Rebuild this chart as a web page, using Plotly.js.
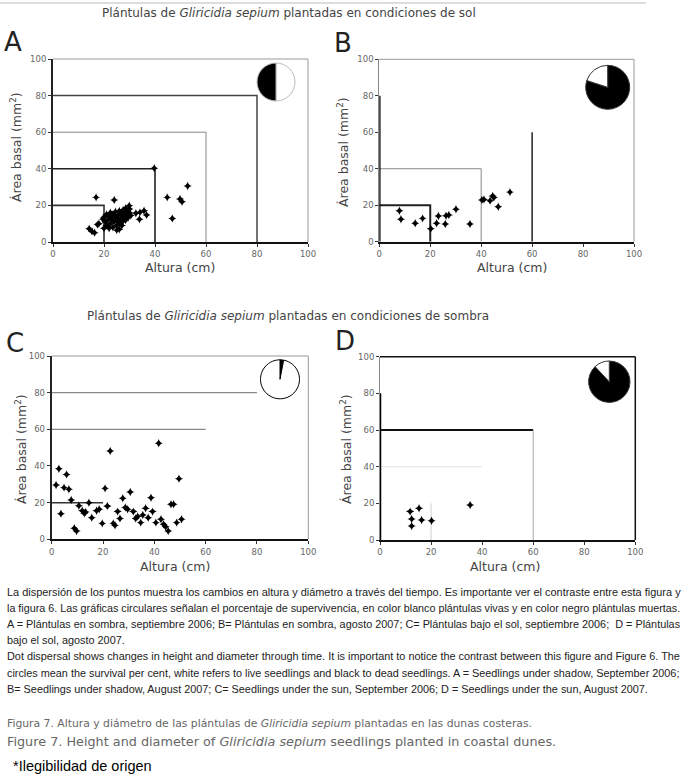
<!DOCTYPE html>
<html>
<head>
<meta charset="utf-8">
<script src="https://cdn.plot.ly/plotly-3.0.1.min.js"></script>
<style>html,body{margin:0;padding:0;background:#fff;}#chart{width:684px;height:783px;}</style>
</head>
<body>
<div id="chart"></div>
<script>
// ---------- DATA ----------
const tickVals = [0, 20, 40, 60, 80, 100];
const tickLabels = ['0', '20', '40', '60', '80', '100'];

// Panel A: shade, September 2006
const aX = [16.9, 24, 29.9, 39.7, 44.8, 46.8, 49.8, 50.6, 52.8, 32.5, 34.1, 35.7, 36.7, 33.9, 14.2, 15.3, 16.3, 17.4, 18,
  19.5, 20, 20.5, 21, 21.5, 21, 22, 22.5, 22.5, 23, 23.5, 23.5, 24, 24.5, 24.5, 25, 25, 25.5, 26, 26, 26, 26.5, 27, 27, 27.5, 27.5, 28, 28, 28.5, 28.5, 29, 29, 29.5, 30, 30, 30.5, 25, 22, 20];
const aY = [24.4, 23, 19.8, 40.3, 24.4, 12.9, 23.5, 22, 30.6, 15.7, 16.2, 17.1, 14.8, 12.4, 7.3, 5.8, 5.1, 9.5, 10,
  12.5, 13.5, 11, 15, 12, 9, 14, 16, 10, 12.5, 15, 8, 11, 13.5, 16.5, 9, 12, 14.5, 7, 10.5, 17, 13, 15.5, 9, 11.5, 17.5, 14, 16, 12, 18.5, 15, 17, 13.5, 16, 18, 14.5, 6.5, 7.5, 7.5];
// Panel B: shade, August 2007
const bX = [7.9, 8.5, 14.1, 17, 20.2, 22.5, 23.2, 25.9, 26.2, 27.3, 30.1, 35.6, 40.3, 41.1, 43.5, 44.5, 45, 46.7, 51.3];
const bY = [17, 12.3, 10.1, 12.8, 7.1, 10.1, 14.1, 9.7, 14.2, 14.6, 17.8, 9.7, 22.9, 23.2, 22.5, 25.1, 24.3, 19.2, 27.2];
// Panel C: sun, September 2006
const cX = [1.7, 2.8, 3.6, 4.8, 5.8, 6.7, 7.6, 8.8, 9.7, 10.6, 11.9, 12.7, 13.2, 14.5, 15.6, 17.5, 18.5, 19.7, 20.8, 21.7, 22.8, 24, 24.7, 25.7, 26.6, 27.7, 28.7, 29.6, 30.6, 31.8, 32.7, 33.5, 34.7, 35.5, 36.6, 37.6, 38.7, 39.3, 40.6, 41.7, 42.6, 43.6, 44.4, 45.4, 46.5, 47.5, 48.7, 49.6, 50.6];
const cY = [29.6, 38.5, 14, 28.2, 35.4, 27.3, 21.4, 6, 4.5, 18.3, 15.6, 14.2, 14.9, 20, 11.8, 15.6, 16.4, 8.7, 27.8, 18.2, 48.2, 8.7, 7.6, 15.1, 11.4, 22.4, 17.4, 16.4, 25.8, 15.1, 11.4, 12.4, 9.1, 13.3, 16.9, 11.8, 22.7, 15.1, 9.1, 52.4, 10.9, 8.2, 6.9, 4.5, 19.1, 19.1, 9.1, 33.1, 10.9];
// Panel D: sun, August 2007
const dX = [11.8, 15.3, 12.4, 16.3, 20.2, 12.4, 35.3];
const dY = [15.5, 17.3, 11.5, 10.9, 10.5, 7.6, 19.1];

// reference boxes / lines (sizes in axis units)
const aBoxes = [20, 40, 60, 80];
const bBoxes = [20, 40];
const bVertical = [60];
const cHoriz = [20, 60, 80];
const dHoriz = [40, 60];
const dVert = [20, 60];
const thickAxisTop = 80;

// survival pies: [dead, alive]
const pieLabels = ['Muertas', 'Vivas'];
const pieA = [50, 50];
const pieB = [80, 20];
const pieC = [3, 97];
const pieD = [88, 12];

// ---------- LAYOUT HELPERS ----------
const W = 684, H = 783;
const fx = p => p / W;
const fy = p => 1 - p / H;

const panels = {
  A: {x: [53, 308], y: [59, 242]},
  B: {x: [379.3, 634], y: [59.3, 241.7]},
  C: {x: [51.7, 308.3], y: [356, 539.3]},
  D: {x: [380, 635.3], y: [356.7, 540]}
};

function axisPair(p, xa, ya, yLineColor, yLineWidth) {
  const common = {
    range: [0, 100], tickmode: 'array', tickvals: tickVals, ticktext: tickLabels,
    showgrid: false, zeroline: false, ticks: 'outside', ticklen: 3, tickwidth: 1, tickcolor: '#333',
    tickfont: {family: 'DejaVu Sans', size: 8.5, color: '#666'}, fixedrange: true, showline: true
  };
  const xo = Object.assign({}, common, {domain: [fx(p.x[0]), fx(p.x[1])], anchor: ya, linecolor: '#111', linewidth: 2});
  const yo = Object.assign({}, common, {domain: [fy(p.y[1]), fy(p.y[0])], anchor: xa, linecolor: yLineColor, linewidth: yLineWidth});
  return [xo, yo];
}

const traces = [];
function lineTrace(xs, ys, xa, ya, color, width) {
  traces.push({type: 'scatter', mode: 'lines', x: xs, y: ys, xaxis: xa, yaxis: ya,
    line: {color: color, width: width}, cliponaxis: false, hoverinfo: 'skip', showlegend: false});
}
function points(xs, ys, xa, ya) {
  traces.push({type: 'scatter', mode: 'markers', x: xs, y: ys, xaxis: xa, yaxis: ya,
    marker: {symbol: 'star-diamond', size: 6, color: '#000', line: {width: 0}}, cliponaxis: false, showlegend: false});
}

// Panel A
const aStyles = {20: ['#333', 1.6], 40: ['#222', 1.6], 60: ['#888', 1], 80: ['#444', 1.5]};
aBoxes.forEach(s => lineTrace([0, s, s], [s, s, 0], 'x', 'y', aStyles[s][0], aStyles[s][1]));
points(aX, aY, 'x', 'y');
// Panel B
const bStyles = {20: ['#222', 2], 40: ['#888', 1]};
bBoxes.forEach(s => lineTrace([0, s, s], [s, s, 0], 'x2', 'y2', bStyles[s][0], bStyles[s][1]));
bVertical.forEach(s => lineTrace([s, s], [0, s], 'x2', 'y2', '#222', 1.5));
lineTrace([0, 0], [0, thickAxisTop], 'x2', 'y2', '#000', 2.5);
points(bX, bY, 'x2', 'y2');
// Panel C
const cStyles = {20: ['#333', 1.5], 60: ['#888', 1.2], 80: ['#888', 1.2]};
cHoriz.forEach(s => lineTrace([0, s], [s, s], 'x3', 'y3', cStyles[s][0], cStyles[s][1]));
points(cX, cY, 'x3', 'y3');
// Panel D
const dHStyles = {40: ['#e4e4e4', 1], 60: ['#111', 2]};
const dVStyles = {20: ['#d0d0d0', 1], 60: ['#aaa', 1]};
dHoriz.forEach(s => lineTrace([0, s], [s, s], 'x4', 'y4', dHStyles[s][0], dHStyles[s][1]));
dVert.forEach(s => lineTrace([s, s], [0, s], 'x4', 'y4', dVStyles[s][0], dVStyles[s][1]));
lineTrace([0, 0], [0, thickAxisTop], 'x4', 'y4', '#000', 2.5);
points(dX, dY, 'x4', 'y4');

// Pies (clockwise from 12 o'clock; the last slice ends at 12 o'clock on the left)
function pie(vals, cx, cy, r, order, lineColor) {
  const v = order === 'alive-first' ? [vals[1], vals[0]] : vals;
  const l = order === 'alive-first' ? [pieLabels[1], pieLabels[0]] : pieLabels;
  const c = order === 'alive-first' ? ['#fff', '#000'] : ['#000', '#fff'];
  traces.push({type: 'pie', values: v, labels: l, sort: false, direction: 'clockwise', rotation: 0,
    domain: {x: [fx(cx - r), fx(cx + r)], y: [fy(cy + r), fy(cy - r)]},
    marker: {colors: c, line: {color: lineColor, width: 1}}, textinfo: 'none', hoverinfo: 'label+percent', showlegend: false});
}
pie(pieA, 276, 82, 19, 'alive-first', '#bbb');
pie(pieB, 607.7, 87.3, 22, 'dead-first', '#333');
pie(pieC, 280, 379.3, 19.5, 'dead-first', '#000');
pie(pieD, 609.3, 381.7, 20.7, 'dead-first', '#333');

const [xA, yA] = axisPair(panels.A, 'x', 'y', '#222', 2);
const [xB, yB] = axisPair(panels.B, 'x2', 'y2', '#888', 1);
const [xC, yC] = axisPair(panels.C, 'x3', 'y3', '#222', 2);
const [xD, yD] = axisPair(panels.D, 'x4', 'y4', '#888', 1);

// frame (top and right borders)
const shapes = [
  {type: 'line', xref: 'paper', yref: 'paper', x0: 0, x1: fx(646), y0: fy(3), y1: fy(3), line: {color: '#bbb', width: 1}}
];
function frame(xa, ya, color, width) {
  shapes.push({type: 'line', xref: xa + ' domain', yref: ya + ' domain', x0: 0, x1: 1, y0: 1, y1: 1, line: {color: color, width: width}});
  shapes.push({type: 'line', xref: xa + ' domain', yref: ya + ' domain', x0: 1, x1: 1, y0: 0, y1: 1, line: {color: color, width: width}});
}
frame('x', 'y', '#999', 1);
frame('x2', 'y2', '#999', 1);
frame('x3', 'y3', '#999', 1);
frame('x4', 'y4', '#111', 1.5);

const ann = [];
function txt(text, x, y, size, opts) {
  ann.push(Object.assign({text: text, x: fx(x), y: fy(y), xref: 'paper', yref: 'paper', showarrow: false,
    xanchor: 'center', yanchor: 'middle', font: {family: 'DejaVu Sans', size: size, color: '#333'}}, opts || {}));
}
const titleFont = {family: 'DejaVu Sans', size: 12, color: '#444'};
txt('Plántulas de <i>Gliricidia sepium</i> plantadas en condiciones de sol', 289, 13, 12, {font: titleFont});
txt('Plántulas de <i>Gliricidia sepium</i> plantadas en condiciones de sombra', 288, 316, 12, {font: titleFont});
const letterFont = {family: 'DejaVu Sans', size: 26, color: '#222'};
txt('A', 13, 42, 26, {font: letterFont});
txt('B', 343, 43, 26, {font: letterFont});
txt('C', 15, 343, 26, {font: letterFont});
txt('D', 345, 341, 26, {font: letterFont});
const yTitle = 'Área basal (mm<sup>2</sup>)';
const axFont = {family: 'DejaVu Sans', size: 12.5, color: '#444'};
txt(yTitle, 16, 147, 12, {textangle: -90, font: axFont});
txt(yTitle, 343, 152, 12, {textangle: -90, font: axFont});
txt(yTitle, 21, 449, 12, {textangle: -90, font: axFont});
txt(yTitle, 346, 449, 12, {textangle: -90, font: axFont});
txt('Altura (cm)', 180, 267, 12, {font: axFont});
txt('Altura (cm)', 512, 268, 12, {font: axFont});
txt('Altura (cm)', 175, 566, 12, {font: axFont});
txt('Altura (cm)', 505, 566, 12, {font: axFont});

const para = [
  'La dispersión de los puntos muestra los cambios en altura y diámetro a través del tiempo. Es importante ver el contraste entre esta figura y',
  'la figura 6. Las gráficas circulares señalan el porcentaje de supervivencia, en color blanco plántulas vivas y en color negro plántulas muertas.',
  'A = Plántulas en sombra, septiembre 2006; B= Plántulas en sombra, agosto 2007; C= Plántulas bajo el sol, septiembre 2006;  D = Plántulas',
  'bajo el sol, agosto 2007.',
  'Dot dispersal shows changes in height and diameter through time. It is important to notice the contrast between this figure and Figure 6. The',
  'circles mean the survival per cent, white refers to live seedlings and black to dead seedlings. A = Seedlings under shadow, September 2006;',
  'B= Seedlings under shadow, August 2007; C= Seedlings under the sun, September 2006; D = Seedlings under the sun, August 2007.'
];
const paraJustified = [true, true, true, false, true, true, false];
// fit justified lines to the text block width (simulates the justified caption)
const measureCtx = document.createElement('canvas').getContext('2d');
function fitSize(line, base, target) {
  measureCtx.font = base + 'px "Liberation Sans"';
  const w = measureCtx.measureText(line).width;
  if (!w) return base;
  return Math.max(9.5, Math.min(11.8, base * target / w));
}
const sizes = para.map((line, i) => paraJustified[i] ? fitSize(line, 10.5, 674) : 0);
const avg = sizes.filter(s => s).reduce((a, b) => a + b, 0) / sizes.filter(s => s).length;
para.forEach((line, i) => {
  const s = paraJustified[i] ? sizes[i] : avg;
  txt(line, 5, 592 + i * 16.1, s, {xanchor: 'left', font: {family: 'Liberation Sans', size: s, color: '#222'}});
});
txt('Figura 7. Altura y diámetro de las plántulas de <i>Gliricidia sepium</i> plantadas en las dunas costeras.', 5, 723, 11, {xanchor: 'left', font: {family: 'DejaVu Sans', size: 10.8, color: '#666'}});
txt('Figure 7. Height and diameter of <i>Gliricidia sepium</i> seedlings planted in coastal dunes.', 5, 741, 12.8, {xanchor: 'left', font: {family: 'DejaVu Sans', size: 12.8, color: '#666'}});
txt('*Ilegibilidad de origen', 11, 766, 14, {xanchor: 'left', font: {family: 'Liberation Sans', size: 14.5, color: '#000'}});

const layout = {
  width: W, height: H, margin: {l: 0, r: 0, t: 0, b: 0}, paper_bgcolor: '#fff', plot_bgcolor: 'rgba(0,0,0,0)',
  showlegend: false, xaxis: xA, yaxis: yA, xaxis2: xB, yaxis2: yB, xaxis3: xC, yaxis3: yC, xaxis4: xD, yaxis4: yD,
  shapes: shapes, annotations: ann
};
Plotly.newPlot('chart', traces, layout, {displayModeBar: false, staticPlot: true});
</script>
</body>
</html>
